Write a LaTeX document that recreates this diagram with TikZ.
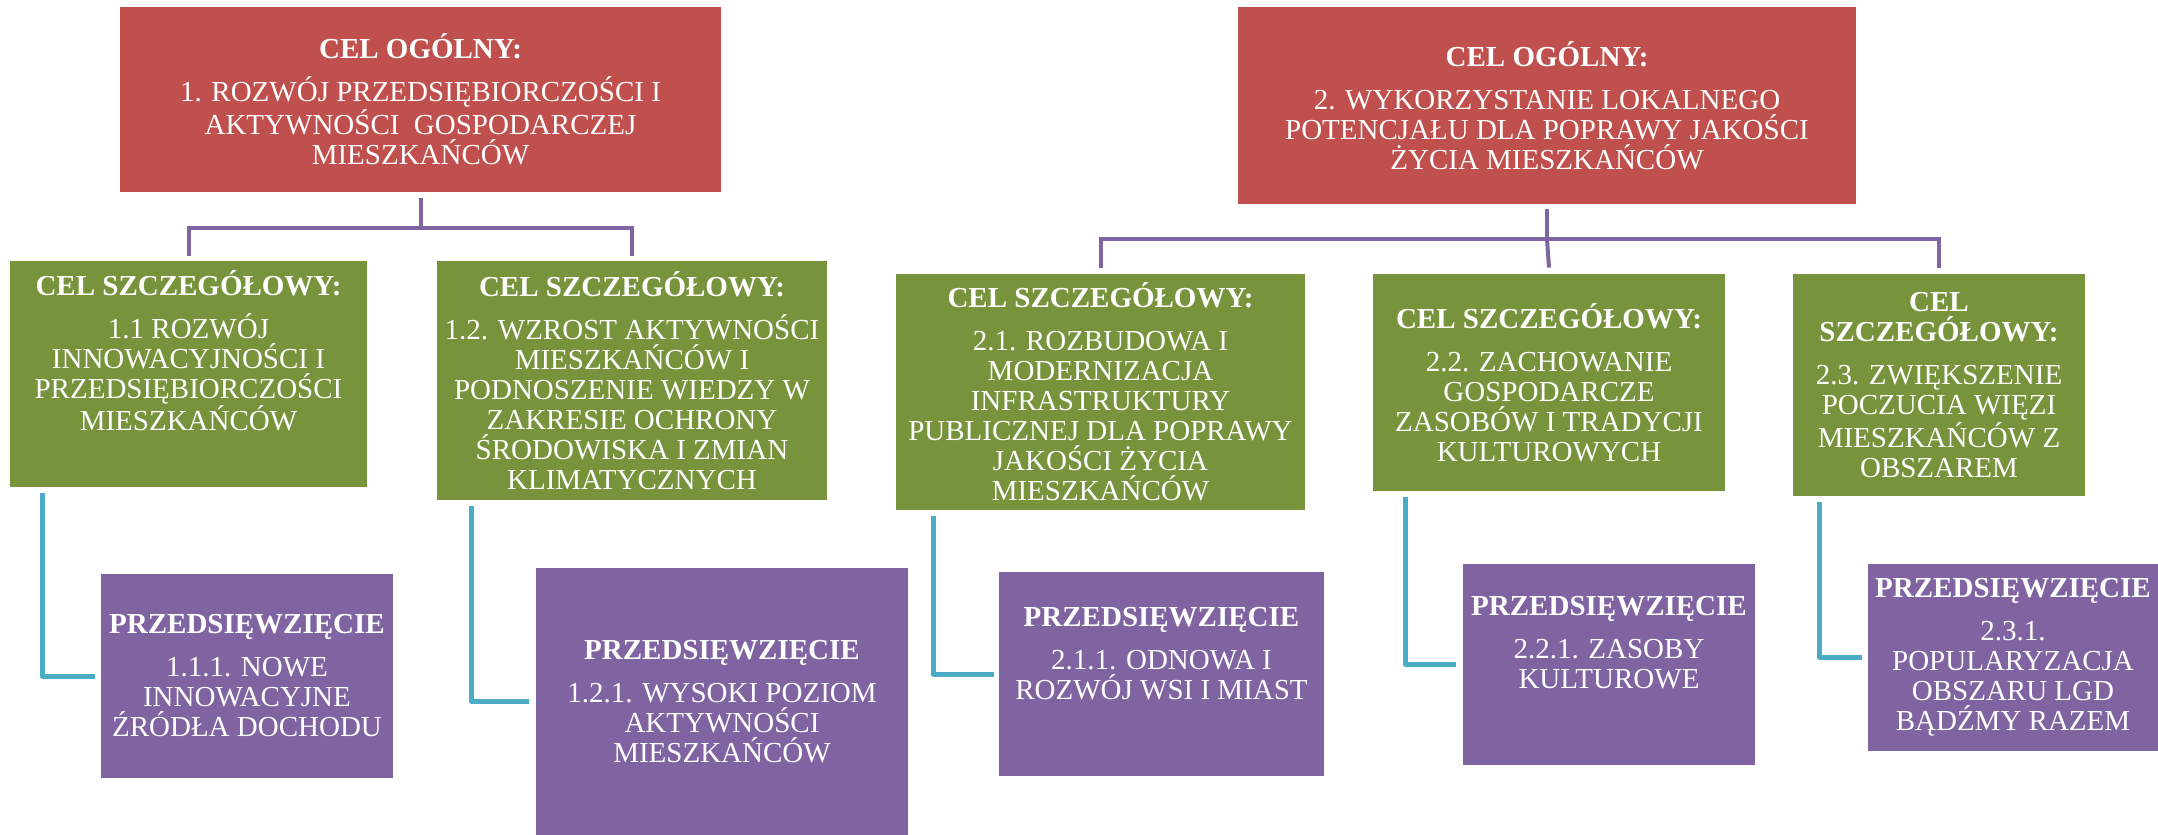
\documentclass[tikz,border=0pt]{standalone}
\usepackage{fontspec}
\setmainfont{Liberation Serif}
\usepackage{tikz}
\usetikzlibrary{positioning}
\definecolor{celred}{HTML}{C0504D}
\definecolor{celgreen}{HTML}{77933C}
\definecolor{celpurple}{HTML}{8064A2}
\definecolor{celblue}{HTML}{4BACC6}
\newcommand{\tytul}[1]{\textbf{#1}\\[6.5pt]}
\tikzstyle{pole} = [rectangle, text=white, align=center, inner sep=2pt, font=\fontsize{14.5}{15}\selectfont]
\tikzstyle{cel} = [pole, fill=celred]
\tikzstyle{szczeg} = [pole, fill=celgreen]
\tikzstyle{przeds} = [pole, fill=celpurple]
\tikzstyle{drzewo} = [draw=celpurple, line width=2pt]
\tikzstyle{lacznik} = [draw=celblue, line width=2.5pt, line join=round]
\begin{document}
\begin{tikzpicture}[x=0.5pt, y=-0.5pt]
					\useasboundingbox (0,0) rectangle (2158,835);
					% cele ogolne
					\node[cel, minimum width=300.5pt, minimum height=92.5pt] (c1) at (420.5,99.5) {%
						\tytul{CEL OGÓLNY:}1. ROZWÓJ PRZEDSIĘBIORCZOŚCI I\\ AKTYWNOŚCI\ \ GOSPODARCZEJ\\ MIESZKAŃCÓW};
					\node[cel, minimum width=309pt, minimum height=98.5pt] (c2) at (1547,105.5) {%
						\tytul{CEL OGÓLNY:}2. WYKORZYSTANIE LOKALNEGO\\ POTENCJAŁU DLA POPRAWY JAKOŚCI\\ ŻYCIA MIESZKAŃCÓW};
					% cele szczegolowe
					\node[szczeg, minimum width=178.5pt, minimum height=113pt] (s11) at (188.5,374) {%
						\tytul{CEL SZCZEGÓŁOWY:}1.1 ROZWÓJ\\ INNOWACYJNOŚCI I\\ PRZEDSIĘBIORCZOŚCI\\ MIESZKAŃCÓW\\[4pt]\strut};
					\node[szczeg, minimum width=195pt, minimum height=119.5pt] (s12) at (632,380.5) {%
						\tytul{CEL SZCZEGÓŁOWY:}1.2. WZROST AKTYWNOŚCI\\ MIESZKAŃCÓW I\\ PODNOSZENIE WIEDZY W\\ ZAKRESIE OCHRONY\\ ŚRODOWISKA I ZMIAN\\ KLIMATYCZNYCH};
					\node[szczeg, minimum width=204.5pt, minimum height=118pt] (s21) at (1100.5,392) {%
						\tytul{CEL SZCZEGÓŁOWY:}2.1. ROZBUDOWA I\\ MODERNIZACJA\\ INFRASTRUKTURY\\ PUBLICZNEJ DLA POPRAWY\\ JAKOŚCI ŻYCIA\\ MIESZKAŃCÓW};
					\node[szczeg, minimum width=176pt, minimum height=108.5pt] (s22) at (1549,382.5) {%
						\tytul{CEL SZCZEGÓŁOWY:}2.2. ZACHOWANIE\\ GOSPODARCZE\\ ZASOBÓW I TRADYCJI\\ KULTUROWYCH};
					\node[szczeg, minimum width=146pt, minimum height=111pt] (s23) at (1939,385) {%
						\textbf{CEL}\\ \tytul{SZCZEGÓŁOWY:}2.3. ZWIĘKSZENIE\\ POCZUCIA WIĘZI\\ MIESZKAŃCÓW Z\\ OBSZAREM};
					% przedsiewziecia
					\node[przeds, minimum width=146pt, minimum height=102pt] (p111) at (247,676) {%
						\tytul{PRZEDSIĘWZIĘCIE}1.1.1. NOWE\\ INNOWACYJNE\\ ŹRÓDŁA DOCHODU};
					\node[przeds, minimum width=186pt, minimum height=133.5pt] (p121) at (722,701.5) {%
						\tytul{PRZEDSIĘWZIĘCIE}1.2.1. WYSOKI POZIOM\\ AKTYWNOŚCI\\ MIESZKAŃCÓW};
					\node[przeds, minimum width=162.5pt, minimum height=102pt] (p211) at (1161.5,674) {%
						\tytul{PRZEDSIĘWZIĘCIE}2.1.1. ODNOWA I\\ ROZWÓJ WSI I MIAST\\[1pt]\strut};
					\node[przeds, minimum width=146pt, minimum height=100.5pt] (p221) at (1609,664.5) {%
						\tytul{PRZEDSIĘWZIĘCIE}2.2.1. ZASOBY\\ KULTUROWE\\[3pt]\strut};
					\node[przeds, minimum width=145pt, minimum height=93.5pt] (p231) at (2013,657.5) {%
						\tytul{PRZEDSIĘWZIĘCIE}2.3.1.\\ POPULARYZACJA\\ OBSZARU LGD\\ BĄDŹMY RAZEM};
					% drzewo celow
					\coordinate (szyna1) at ([yshift=-18pt]c1.south);
					\coordinate (szyna2) at ([yshift=-17.5pt]c2.south);
					\draw[drzewo] ([yshift=-3pt]c1.south) -- (szyna1);
					\draw[drzewo] ([yshift=2.5pt]s11.north) |- (szyna1) -| ([yshift=2.5pt]s12.north);
					\draw[drzewo] ([yshift=-2.5pt]c2.south) -- (szyna2);
					\draw[drzewo] ([yshift=3pt]s21.north) |- (szyna2) -| ([yshift=3pt]s23.north);
					\draw[drzewo] (szyna2) -- ([yshift=3pt]s22.north);
					% laczniki do przedsiewziec
					\draw[lacznik] ([xshift=16.5pt,yshift=-3pt]s11.south west) |- ([xshift=-3pt]p111.west);
					\draw[lacznik] ([xshift=17.5pt,yshift=-3pt]s12.south west) |- ([xshift=-3.5pt]p121.west);
					\draw[lacznik] ([xshift=19pt,yshift=-3pt]s21.south west) |- ([xshift=-2.5pt]p211.west);
					\draw[lacznik] ([xshift=16.5pt,yshift=-3pt]s22.south west) |- ([xshift=-3.5pt]p221.west);
					\draw[lacznik] ([xshift=13.5pt,yshift=-3pt]s23.south west) |- ([xshift=-3pt]p231.west);
\end{tikzpicture}
\end{document}
